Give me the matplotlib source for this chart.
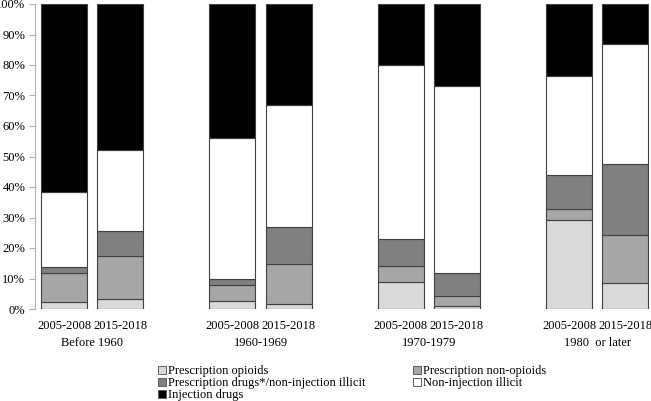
import matplotlib
matplotlib.use("Agg")
import matplotlib.pyplot as plt
import numpy as np
from matplotlib.patches import Patch
from matplotlib.ticker import PercentFormatter

plt.rcParams['font.family'] = ['Liberation Serif', 'DejaVu Serif']
plt.rcParams['font.size'] = 9

# cohorts and periods
groups = ["Before 1960", "1960-1969", "1970-1979", "1980  or later"]
periods = ["2005-2008", "2015-2018"]

# percent of each bar, bottom to top
rx_opioids = [2.2, 3.3, 2.6, 1.6, 9.0, 1.0, 29.2, 8.5]
rx_non_opioids = [9.6, 14.2, 5.2, 13.0, 5.0, 3.3, 3.5, 15.8]
rx_and_noninj = [2.1, 8.0, 2.1, 12.3, 9.0, 7.5, 11.2, 23.2]
non_injection = [24.4, 26.7, 46.2, 40.1, 57.0, 61.2, 32.5, 39.5]
injection = [61.7, 47.8, 43.9, 33.0, 20.0, 27.0, 23.6, 13.0]

series = [
    ("Prescription opioids", rx_opioids, "#d9d9d9"),
    ("Prescription non-opioids", rx_non_opioids, "#a6a6a6"),
    ("Prescription drugs*/non-injection illicit", rx_and_noninj, "#808080"),
    ("Non-injection illicit", non_injection, "#ffffff"),
    ("Injection drugs", injection, "#000000"),
]

# two bars per group, one empty slot between groups
xpos = []
for g in range(len(groups)):
    xpos += [3 * g, 3 * g + 1]
xpos = np.array(xpos)

fig = plt.figure(figsize=(6.51, 4.01), dpi=100)
ax = fig.add_axes([35 / 651, 1 - 309 / 401, 1 - 35 / 651, 305 / 401])

bottom = np.zeros(len(xpos))
for name, vals, col in series:
    vals = np.array(vals)
    ax.bar(xpos, vals, 0.82, bottom=bottom, color=col,
           edgecolor="#404040", linewidth=0.8, label=name)
    bottom += vals

ax.set_xlim(-0.52, 10.46)
ax.set_ylim(0, 100)
ax.set_yticks(np.arange(0, 101, 10))
ax.yaxis.set_major_formatter(PercentFormatter(decimals=0))

ax.set_xticks(xpos)
ax.set_xticklabels(periods * len(groups))
ax.tick_params(axis='x', length=0, pad=8)
ax.tick_params(axis='y', length=4, color="#b0b0b0", pad=3)

for s in ["top", "right", "bottom"]:
    ax.spines[s].set_visible(False)
ax.spines["left"].set_color("#b0b0b0")

for g, name in enumerate(groups):
    ax.text(3 * g + 0.5, -34 / 305, name, transform=ax.get_xaxis_transform(),
            ha="center", va="center")

# legend filled row by row: reorder for column-major layout
handles = [Patch(facecolor=c, edgecolor="#606060", linewidth=0.7, label=n)
           for n, v, c in series]
order = [0, 2, 4, 1, 3]
fig.legend([handles[i] for i in order], [series[i][0] for i in order],
           ncol=2, loc="upper left", bbox_to_anchor=(158 / 651, 1 - 365 / 401),
           frameon=False, handlelength=0.6, handleheight=0.6, handletextpad=0.2,
           labelspacing=0.0, columnspacing=3.8, borderpad=0, borderaxespad=0)

fig.savefig("out.png", dpi=100)
